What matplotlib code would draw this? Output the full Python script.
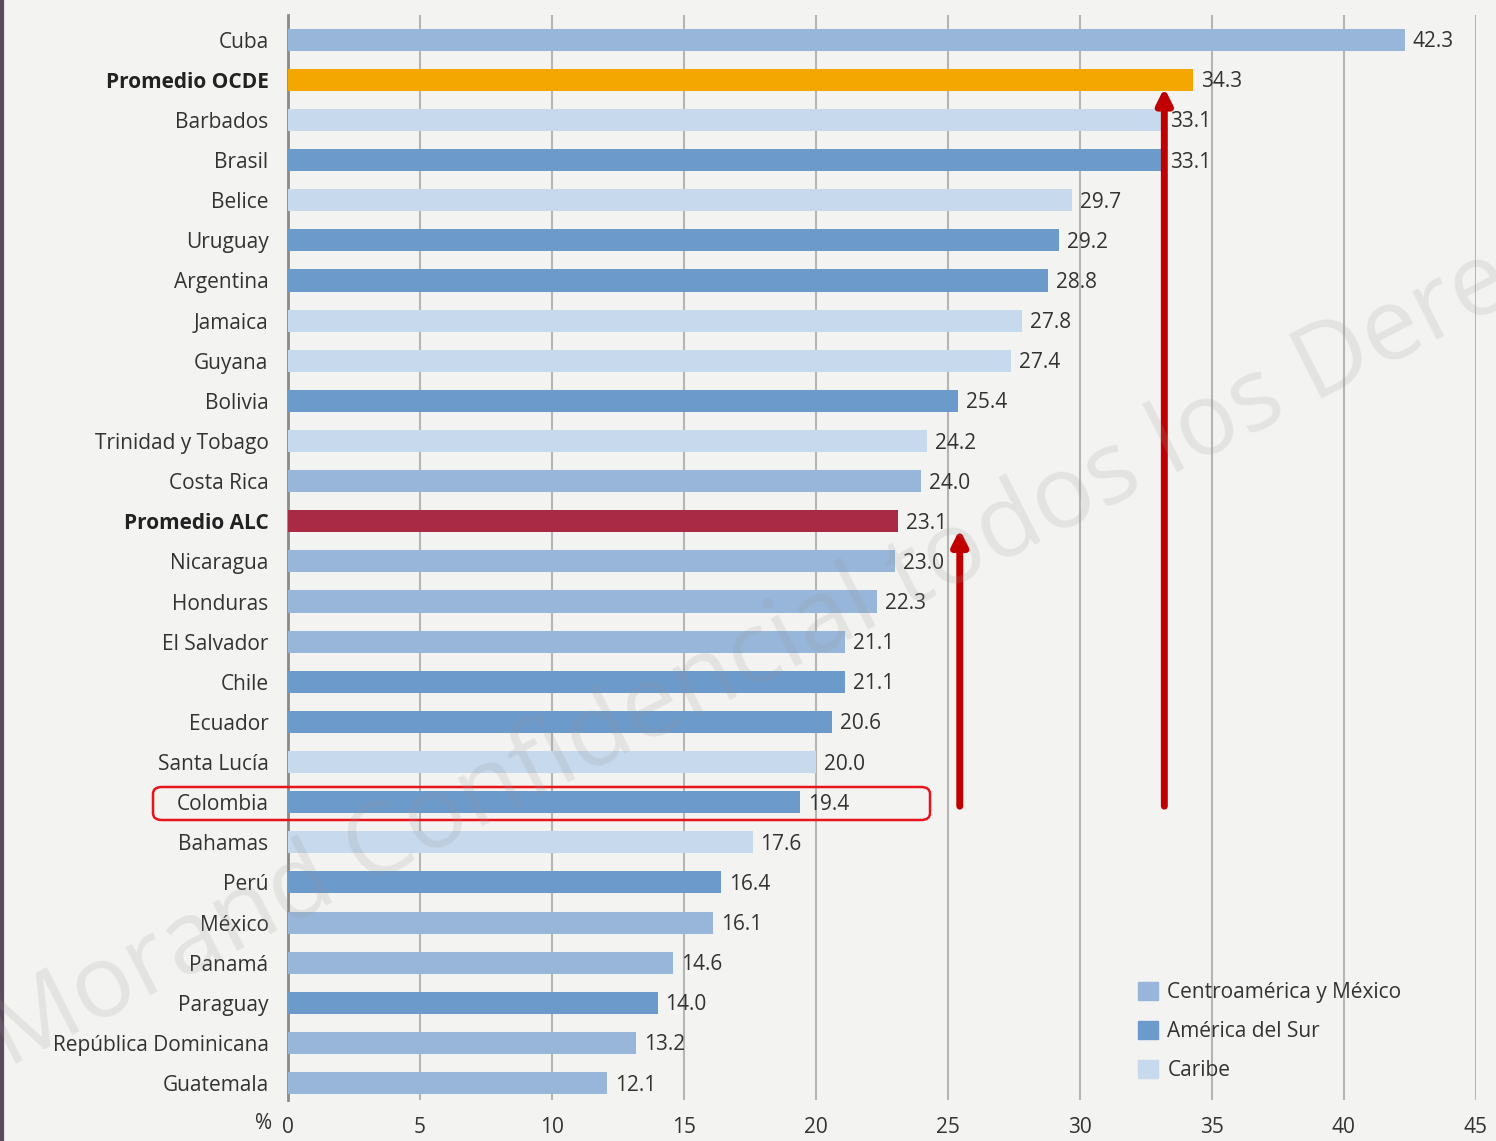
import matplotlib
matplotlib.use("Agg")
import matplotlib.pyplot as plt
from matplotlib.patches import FancyBboxPatch, Patch

countries = ["Cuba", "Promedio OCDE", "Barbados", "Brasil", "Belice", "Uruguay",
             "Argentina", "Jamaica", "Guyana", "Bolivia", "Trinidad y Tobago",
             "Costa Rica", "Promedio ALC", "Nicaragua", "Honduras", "El Salvador",
             "Chile", "Ecuador", "Santa Lucía", "Colombia", "Bahamas", "Perú",
             "México", "Panamá", "Paraguay", "República Dominicana", "Guatemala"]
values = [42.3, 34.3, 33.1, 33.1, 29.7, 29.2, 28.8, 27.8, 27.4, 25.4, 24.2,
          24.0, 23.1, 23.0, 22.3, 21.1, 21.1, 20.6, 20.0, 19.4, 17.6, 16.4,
          16.1, 14.6, 14.0, 13.2, 12.1]
groups = ["C", "OCDE", "K", "S", "K", "S", "S", "K", "K", "S", "K", "C", "ALC",
          "C", "C", "C", "S", "S", "K", "S", "K", "S", "C", "C", "S", "C", "C"]
xticks = [0, 5, 10, 15, 20, 25, 30, 35, 40, 45]
legend_labels = ["Centroamérica y México", "América del Sur", "Caribe"]

colors = {"C": "#97b6d9", "S": "#6b9acb", "K": "#c7d9ec",
          "OCDE": "#f4a700", "ALC": "#a82a45"}

plt.rcParams['font.family'] = ['Open Sans', 'DejaVu Sans']
FS = 15
bg = "#f3f3f1"
fig = plt.figure(figsize=(14.96, 11.41), dpi=100, facecolor=bg)
ax = fig.add_axes([0.1925, 0.036, 0.794, 0.951])
ax.set_facecolor(bg)

ypos = list(range(len(countries)))
ax.barh(ypos, values, height=0.55, color=[colors[g] for g in groups], zorder=3)
for y, v in zip(ypos, values):
    ax.text(v + 0.3, y + 0.05, f"{v:.1f}", va="center", ha="left",
            fontsize=FS, color="#333333", zorder=5)

ax.set_xlim(0, 45)
ax.set_ylim(26.42, -0.62)
ax.set_yticks(ypos)
ax.set_yticklabels(countries, fontsize=FS, color="#333333")
for lbl, g in zip(ax.get_yticklabels(), groups):
    if g in ("OCDE", "ALC"):
        lbl.set_fontweight("bold")
        lbl.set_color("#222222")
ax.set_xticks(xticks)
ax.set_xticklabels([str(t) for t in xticks], fontsize=FS, color="#333333")
ax.tick_params(axis="both", length=0, pad=14)
ax.tick_params(axis="x", pad=12)
for t in xticks[1:]:
    ax.axvline(t, color="#b5b5b5", lw=1.5, zorder=1)
for s in ["top", "right", "bottom"]:
    ax.spines[s].set_visible(False)
ax.spines["left"].set_color("#8a8a8a")
ax.spines["left"].set_linewidth(2)
ax.text(-0.6, 27.0, "%", fontsize=FS, color="#333333", ha="right", va="center",
        clip_on=False)

handles = [Patch(color=colors[k]) for k in ["C", "S", "K"]]
leg = ax.legend(handles, legend_labels, loc="lower left",
                bbox_to_anchor=(0.70, 0.0), frameon=False, fontsize=FS,
                handlelength=0.95, handleheight=0.95, handletextpad=0.45,
                labelspacing=0.85, labelcolor="#333333")

# Annotations (red box and arrows)
fig.patches.append(FancyBboxPatch((153 / 1496, 1 - 820 / 1141), (930 - 153) / 1496,
                                  33 / 1141, boxstyle="round,pad=0,rounding_size=0.006",
                                  transform=fig.transFigure, fill=False,
                                  edgecolor="#e8141c", lw=1.8, zorder=10))
ax.annotate("", xy=(25.45, 12.2), xytext=(25.45, 19.1),
            arrowprops=dict(arrowstyle="-|>,head_width=0.45,head_length=0.9",
                            color="#c00000", lw=5, shrinkA=0, shrinkB=0), zorder=8)
ax.annotate("", xy=(33.2, 1.2), xytext=(33.2, 19.1),
            arrowprops=dict(arrowstyle="-|>,head_width=0.45,head_length=0.9",
                            color="#c00000", lw=5, shrinkA=0, shrinkB=0), zorder=8)

# left border line
fig.add_artist(plt.Line2D([0.0015, 0.0015], [0, 1], transform=fig.transFigure,
                          color="#5a4a5a", lw=3))

# watermark
fig.text(0.012, 0.045, "Morand Confidencial todos los Derechos", fontsize=73,
         color="#999999", alpha=0.18, rotation=27, ha="left", va="bottom",
         rotation_mode="anchor", zorder=20)

fig.savefig("out.png", dpi=100, facecolor=bg)
